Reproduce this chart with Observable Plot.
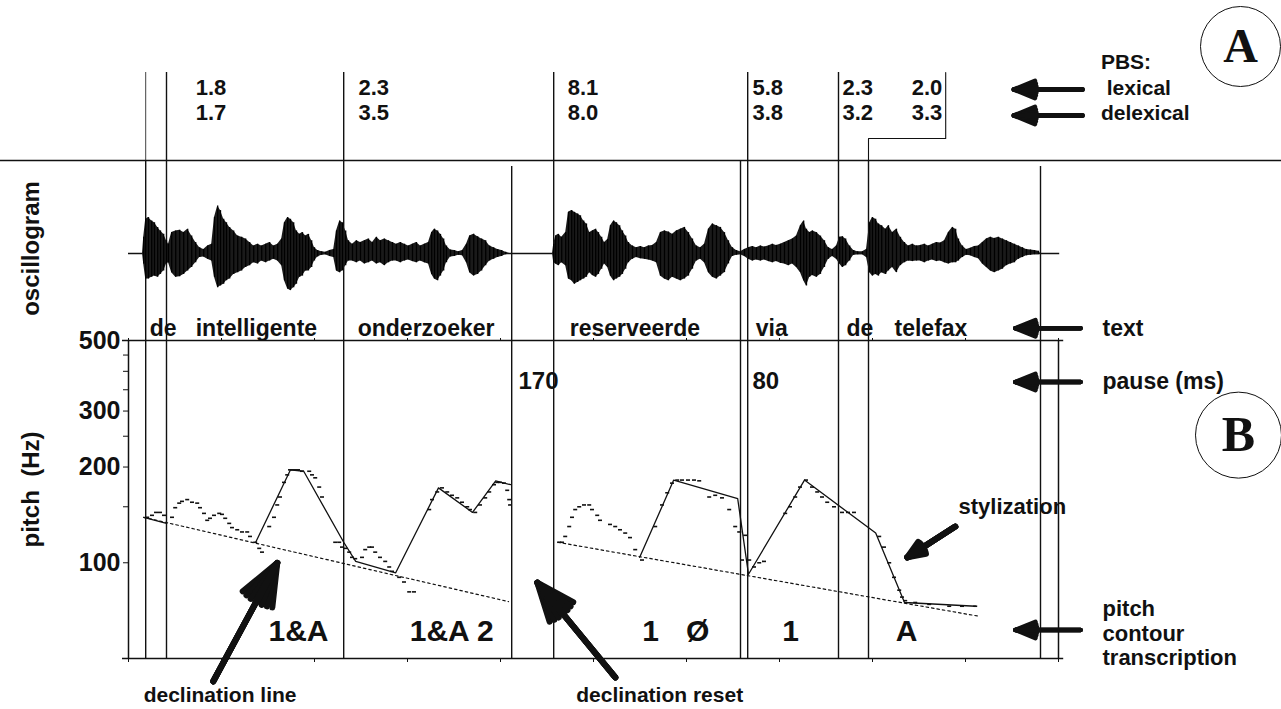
<!DOCTYPE html>
<html><head><meta charset="utf-8">
<script src="https://cdn.jsdelivr.net/npm/d3@7"></script>
<script src="https://cdn.jsdelivr.net/npm/@observablehq/plot@0.6"></script>
<style>
html,body{margin:0;padding:0;background:#fff;}
#fig{position:relative;width:1281px;height:709px;background:#fff;overflow:hidden;}
</style></head><body><div id="fig"></div>
<script>
// ---------------- data (time in ms, pitch in Hz) ----------------
const wordText = ["de","intelligente","onderzoeker","reserveerde","via","de","telefax"];
const wordStart = [53,168,573,1103,1568,1795,1915];
const boundaryTime = [43,95,538,958,1063,1530,1548,1775,1850,2280];
const silenceOnset = [958,2280];                 // lines that start just below the PBS strip
const boundaryInPBS = [43,95,538,1063,1548,1775]; // lines that run up into the PBS strip
const pbsShift = [1850,2043];                    // de|telefax boundary and its displaced PBS line
const pbsLexical = ["1.8","2.3","8.1","5.8","2.3","2.0"];
const pbsDelexical = ["1.7","3.5","8.0","3.8","3.2","3.3"];
const pbsLabelTime = [168,575,1098,1560,1785,1958];
const pauseLabel = ["170","80"];
const pauseLabelTime = [975,1560];
const transLabel = ["1&A","1&A 2","1","Ø","1","A"];
const transTime = [425,808,1305,1423,1655,1945];
const xTicks = d3.range(0, 2326, 232.5);
const yTicks = [50,100,150,200,250,300,350,400,450,500];
const yTickLabels = [100,200,300,500];
const frameMs = 10;

// oscillogram envelope: [time, upper amplitude, lower amplitude]
const oscEnvelope = [
 [0,0,0],[35,0,0],[38,.28,.18],[43,.59,.44],[50,.62,.44],[58,.56,.41],[65,.53,.39],[73,.45,.41],[80,.39,.36],[88,.33,.30],
 [95,.22,.18],[100,.16,.16],[108,.36,.33],[118,.39,.41],[128,.40,.40],[138,.36,.36],[148,.42,.30],[158,.30,.24],[168,.19,.16],[178,.10,.07],
 [188,.07,.06],[198,.13,.10],[208,.16,.13],[215,.62,.41],[223,.82,.59],[230,.74,.56],[238,.59,.53],[245,.53,.47],[253,.45,.44],[263,.39,.36],
 [273,.30,.33],[283,.28,.30],[293,.25,.24],[303,.19,.21],[313,.13,.16],[323,.16,.18],[333,.13,.13],[343,.16,.16],[353,.19,.13],[363,.13,.10],
 [373,.16,.13],[383,.25,.21],[390,.53,.47],[398,.62,.61],[405,.59,.64],[413,.53,.59],[420,.39,.53],[428,.33,.41],[435,.36,.39],[443,.30,.30],
 [450,.33,.30],[458,.22,.24],[465,.10,.13],[473,.05,.06],[483,.03,.03],[493,.02,.02],[503,.05,.05],[513,.07,.07],[520,.39,.30],[528,.56,.33],
 [535,.53,.30],[543,.39,.21],[550,.22,.13],[560,.16,.13],[570,.22,.16],[580,.19,.13],[590,.22,.18],[600,.25,.16],[610,.19,.13],[620,.28,.18],
 [630,.22,.16],[640,.25,.21],[650,.22,.16],[660,.19,.13],[670,.16,.13],[680,.19,.16],[690,.16,.13],[700,.13,.11],[710,.16,.14],[720,.19,.16],
 [730,.13,.13],[740,.16,.16],[750,.19,.18],[758,.36,.36],[765,.42,.44],[773,.39,.47],[780,.33,.39],[788,.25,.30],[795,.13,.16],[805,.06,.06],
 [815,.05,.05],[825,.03,.03],[835,.05,.04],[845,.16,.16],[853,.30,.33],[863,.33,.39],[873,.29,.36],[883,.25,.30],[893,.22,.21],[903,.13,.13],
 [913,.10,.10],[923,.07,.07],[933,.05,.05],[943,.02,.02],[953,0,0],[1060,0,0],[1063,.16,.16],[1068,.30,.18],[1075,.33,.21],[1083,.28,.16],
 [1093,.36,.21],[1100,.71,.44],[1108,.74,.47],[1115,.71,.53],[1123,.68,.50],[1130,.65,.47],[1138,.56,.44],[1145,.51,.41],[1153,.36,.33],[1160,.39,.38],
 [1168,.42,.41],[1175,.36,.36],[1183,.28,.27],[1190,.19,.18],[1198,.24,.24],[1205,.48,.39],[1213,.56,.47],[1220,.53,.44],[1228,.48,.41],[1235,.39,.36],
 [1243,.30,.27],[1250,.19,.16],[1260,.13,.10],[1270,.10,.07],[1280,.12,.09],[1290,.10,.10],[1300,.13,.11],[1310,.14,.13],[1320,.19,.16],[1330,.36,.39],
 [1340,.39,.44],[1350,.37,.47],[1360,.33,.41],[1370,.39,.44],[1380,.42,.47],[1390,.45,.44],[1400,.36,.39],[1410,.25,.27],[1420,.13,.13],[1430,.10,.10],
 [1440,.16,.16],[1450,.42,.33],[1460,.51,.41],[1470,.48,.44],[1480,.45,.39],[1490,.36,.33],[1500,.22,.18],[1510,.10,.05],[1520,.05,.03],[1530,.03,.02],
 [1540,.07,.05],[1550,.10,.10],[1560,.12,.13],[1570,.10,.11],[1580,.13,.13],[1590,.11,.11],[1600,.13,.14],[1610,.16,.16],[1620,.14,.14],[1630,.16,.17],
 [1640,.19,.18],[1650,.22,.21],[1660,.25,.18],[1670,.30,.24],[1680,.48,.33],[1688,.56,.47],[1695,.42,.56],[1703,.36,.41],[1710,.39,.38],[1720,.36,.41],
 [1730,.30,.36],[1740,.22,.24],[1750,.10,.10],[1760,.07,.05],[1770,.13,.10],[1778,.28,.18],[1785,.29,.24],[1793,.25,.21],[1803,.13,.13],[1813,.05,.03],
 [1823,.03,.02],[1835,.03,.02],[1845,.07,.07],[1853,.53,.33],[1860,.62,.39],[1868,.59,.36],[1875,.51,.39],[1883,.48,.33],[1893,.42,.36],[1900,.48,.30],
 [1910,.36,.24],[1920,.42,.33],[1930,.28,.21],[1940,.19,.16],[1950,.13,.13],[1960,.16,.14],[1970,.13,.13],[1980,.14,.13],[1990,.16,.16],[2000,.13,.13],
 [2010,.16,.11],[2020,.19,.14],[2030,.18,.13],[2040,.22,.16],[2050,.36,.18],[2060,.45,.16],[2068,.42,.16],[2075,.25,.13],[2085,.13,.07],[2095,.07,.03],
 [2105,.09,.04],[2115,.12,.07],[2125,.13,.09],[2135,.19,.18],[2145,.25,.24],[2155,.28,.30],[2165,.26,.33],[2175,.28,.30],[2185,.25,.27],[2195,.22,.21],
 [2205,.19,.18],[2215,.16,.16],[2225,.13,.10],[2235,.10,.07],[2245,.07,.04],[2255,.06,.03],[2265,.05,.02],[2275,.04,.02],[2280,0,0],[2328,0,0]
];

// measured F0 points: [time, Hz]
const pitchPoints = [
 [43,139],[55,141],[65,144],[75,144],[85,141],[105,139],[113,149],[123,154],[130,156],[143,158],
 [155,155],[168,154],[175,149],[185,143],[193,136],[200,138],[210,141],[223,143],[230,142],[238,138],
 [248,133],[255,129],[268,127],[280,125],[293,125],[300,121],[313,116],[323,111],[330,108],[348,130],
 [360,139],[368,152],[375,161],[385,179],[393,189],[400,196],[410,196],[420,196],[430,194],[448,194],
 [455,189],[463,185],[473,173],[480,161],[513,116],[523,116],[530,112],[538,111],[548,108],[555,104],
 [563,103],[580,104],[588,110],[598,112],[605,112],[613,108],[625,104],[638,101],[648,97],[655,94],
 [673,90],[685,87],[698,81],[710,81],[748,147],[755,158],[768,167],[780,172],[793,167],[805,163],
 [818,160],[830,155],[843,150],[850,147],[863,144],[875,152],[888,160],[898,167],[910,176],[918,179],
 [925,179],[935,178],[943,169],[948,158],[950,152],
 [1073,116],[1080,116],[1088,121],[1098,130],[1105,139],[1113,147],[1123,150],[1135,152],[1148,152],[1155,147],
 [1168,141],[1175,136],[1200,132],[1213,130],[1225,127],[1238,124],[1250,120],[1263,110],[1280,102],[1313,130],
 [1330,152],[1343,166],[1355,178],[1368,182],[1380,182],[1395,182],[1410,182],[1423,181],[1448,161],[1463,163],
 [1480,160],[1498,147],[1513,130],[1523,125],[1530,102],[1538,122],[1548,102],[1560,97],[1573,100],[1585,101],
 [1638,143],[1650,150],[1663,161],[1675,173],[1690,182],[1705,173],[1718,167],[1730,161],[1743,155],[1760,150],
 [1780,144],[1795,144],[1810,144],[1873,121],[1885,112],[1898,100],[1910,90],[1923,82],[1930,78],[1938,76],
 [1963,75],[1998,74],[2048,73],[2080,73],[2113,73]
];

// close-copy stylization: [segment, time, Hz]
const stylization = [
 [1,38,139],[1,95,133],
 [2,318,116],[2,405,196],[2,438,194],[2,538,116],[2,568,101],[2,668,93],[2,775,172],[2,860,144],[2,918,181],[2,955,176],
 [3,1278,104],[3,1363,182],[3,1523,159],[3,1550,92],[3,1690,182],[3,1868,124],[3,1940,75],[3,2118,73]
];
// declination lines: [segment, time, Hz]
const declination = [[1,38,139],[1,950,75.5],[2,1073,116],[2,2123,68]];

// annotation anchors (time, Hz)
const labelCol = 2435, arrowFrom = 2380, arrowTo = 2217;
const noteArrows = [
 [212,42.4,372,100],     // declination line
 [1217,43.6,1022,86.6],  // declination reset
 [2067,130,1947,104]     // stylization
];
// ---------------------------------------------------------------

const FONT = "Liberation Sans, Arial, Helvetica, sans-serif";
const SERIF = "Liberation Serif, Times New Roman, serif";
const base = {width: 1281, marginLeft: 128, marginRight: 223};
const X = {domain: [0, 2325]};
const css = (top) => ({position: "absolute", left: "0px", top: top + "px", background: "transparent",
  overflow: "visible", fontFamily: FONT, fontWeight: "bold", fontSize: "23px", color: "#111"});
const T = (o) => ({fontFamily: FONT, fontWeight: "bold", ...o});

function fatArrow(data, {head = 18, w = 4.5, ...rest} = {}) {
  return [44, 30, 16, 2].map(a => Plot.arrow(data, {
    x1: d => d[0], y1: d => d[1], x2: d => d[2], y2: d => d[3],
    headLength: head, headAngle: a, strokeWidth: w, stroke: "#111", ...rest
  }));
}

const fig = document.getElementById("fig");

// ---------- panel A: prosodic boundary strength ----------
const rows = ["top","lexical","delexical","step","base"];
const panelA = Plot.plot({
  ...base, height: 160, marginTop: 0, marginBottom: 0, style: css(0),
  x: {...X, axis: null},
  y: {type: "point", domain: rows, range: [72, 160], padding: 0, axis: null},
  marks: [
    Plot.ruleY(["base"], {y: d => d, x1: -320, x2: 2883, strokeWidth: 1.4}),
    Plot.ruleX(boundaryInPBS, {x: d => d, y1: () => "top", y2: () => "base", strokeWidth: (d, i) => i === 0 ? 0.8 : 1.4}),
    Plot.line([[pbsShift[0],"base"],[pbsShift[0],"step"],[pbsShift[1],"step"],[pbsShift[1],"top"]],
      {x: d => d[0], y: d => d[1], strokeWidth: 1.1}),
    Plot.text(pbsLexical, T({x: (d, i) => pbsLabelTime[i], y: () => "lexical", text: d => d, textAnchor: "start", dy: -7, fontSize: 22})),
    Plot.text(pbsDelexical, T({x: (d, i) => pbsLabelTime[i], y: () => "delexical", text: d => d, textAnchor: "start", dy: -4, fontSize: 22})),
    Plot.text(["PBS:"], T({x: () => labelCol - 4, y: () => "top", dy: -10, textAnchor: "start", fontSize: 21})),
    Plot.text([" lexical"], T({x: () => labelCol - 4, y: () => "lexical", text: d => d, textAnchor: "start", dy: -6, fontSize: 21})),
    Plot.text(["delexical"], T({x: () => labelCol - 4, y: () => "delexical", text: d => d, textAnchor: "start", dy: -3, fontSize: 21})),
    ...fatArrow([[arrowFrom + 5, "lexical", arrowTo - 4, "lexical"]], {dy: -5}),
    ...fatArrow([[arrowFrom + 5, "delexical", arrowTo - 4, "delexical"]], {dy: -1}),
    Plot.dot(["A"], {x: () => 2780, y: () => "top", dy: -26, r: 40, stroke: "#111", fill: "none", strokeWidth: 1}),
    Plot.text(["A"], {x: () => 2780, y: () => "top", dy: -26, text: d => d, fontFamily: SERIF, fontWeight: "bold", fontSize: 48})
  ]
});
fig.appendChild(panelA);

// ---------- oscillogram + text ----------
const textRow = -1.29;
const panelO = Plot.plot({
  ...base, height: 180, marginTop: 0, marginBottom: 0, style: css(160),
  x: {...X, axis: null},
  y: {domain: [-1.5, 1.5], range: [180, 6], axis: null},
  marks: [
    Plot.ruleX(boundaryTime.filter(t => !silenceOnset.includes(t)), {x: d => d, strokeWidth: 1.4}),
    Plot.ruleX(silenceOnset, {x: d => d, strokeWidth: 1.4, insetTop: 6}),
    Plot.ruleY([0], {y: d => d, x1: 0, x2: 2328, strokeWidth: 1.5}),
    Plot.areaY(oscEnvelope, {x: d => d[0], y1: d => -d[2], y2: d => d[1], fill: "#1a1a1a"}),
    Plot.ruleX(oscEnvelope, {x: d => d[0], y1: d => -d[2], y2: d => d[1], strokeWidth: 1.3, stroke: "#000"}),
    Plot.text(wordText, T({x: (d, i) => wordStart[i], y: () => textRow, text: d => d, textAnchor: "start", fontSize: 23})),
    Plot.text(["text"], T({x: () => labelCol, y: () => textRow, text: d => d, textAnchor: "start", fontSize: 23})),
    ...fatArrow([[arrowFrom, textRow, arrowTo, textRow]]),
    Plot.text(["oscillogram"], T({frameAnchor: "left", textAnchor: "middle", lineAnchor: "middle", dx: -97, dy: -2, rotate: -90, text: d => d, fontSize: 24}))
  ]
});
fig.appendChild(panelO);

// ---------- pitch panel ----------
const panelP = Plot.plot({
  ...base, height: 389, marginTop: 20, marginBottom: 51, style: css(320),
  x: X,
  y: {type: "log", domain: [50, 500]},
  marks: [
    Plot.ruleX(boundaryTime, {x: d => d, strokeWidth: 1.4}),
    Plot.ruleX([0, 2325], {x: d => d, strokeWidth: 1.5}),
    Plot.ruleY([50, 500], {y: d => d, x1: -15, x2: 2338, strokeWidth: 1.5}),
    Plot.axisY(yTicks, {tickSize: 5, tickPadding: 3, label: null, fontSize: 25, fontWeight: "bold",
      tickFormat: d => yTickLabels.includes(d) ? String(d) : ""}),
    Plot.axisX(xTicks, {anchor: "bottom", tickSize: 4, label: null, tickFormat: () => ""}),
    Plot.axisX(xTicks, {anchor: "top", tickSize: 3, label: null, tickFormat: () => ""}),
    Plot.line(declination, {x: d => d[1], y: d => d[2], z: d => d[0], strokeWidth: 1.2, strokeDasharray: "2.5,3", stroke: "#111"}),
    Plot.line(stylization, {x: d => d[1], y: d => d[2], z: d => d[0], strokeWidth: 1.3, stroke: "#111"}),
    Plot.ruleY(pitchPoints, {y: d => d[1], x1: d => d[0], x2: d => d[0] + frameMs, strokeWidth: 1.6, stroke: "#111"}),
    Plot.text(pauseLabel, T({x: (d, i) => pauseLabelTime[i], y: () => 372, text: d => d, textAnchor: "start", fontSize: 24})),
    Plot.text(transLabel, T({x: (d, i) => transTime[i], y: () => 61, text: d => d, fontSize: 30})),
    Plot.text(["pitch  (Hz)"], T({frameAnchor: "left", textAnchor: "middle", lineAnchor: "middle", dx: -97, dy: -10, rotate: -90, text: d => d, fontSize: 24})),
    Plot.text(["pause (ms)"], T({x: () => labelCol, y: () => 370, text: d => d, textAnchor: "start", fontSize: 23})),
    Plot.text(["pitch\ncontour\ntranscription"], T({x: () => labelCol, y: () => 60.3, text: d => d, textAnchor: "start", fontSize: 22, lineHeight: 1.13})),
    Plot.text(["stylization"], T({x: () => 2075, y: () => 150, text: d => d, textAnchor: "start", fontSize: 22})),
    Plot.text(["declination line", "declination reset"], T({x: (d, i) => [229, 1328][i], frameAnchor: "bottom", lineAnchor: "middle", dy: 37, text: d => d, fontSize: 21})),
    ...fatArrow([[arrowFrom, 370, arrowTo, 370], [arrowFrom, 61.5, arrowTo, 61.5]]),
    ...fatArrow(noteArrows, {head: 24, w: 6}),
    Plot.dot(["B"], {x: () => 2775, y: () => 252, r: 43, stroke: "#111", fill: "none", strokeWidth: 1}),
    Plot.text(["B"], {x: () => 2775, y: () => 252, text: d => d, fontFamily: SERIF, fontWeight: "bold", fontSize: 50})
  ]
});
fig.appendChild(panelP);
</script></body></html>
